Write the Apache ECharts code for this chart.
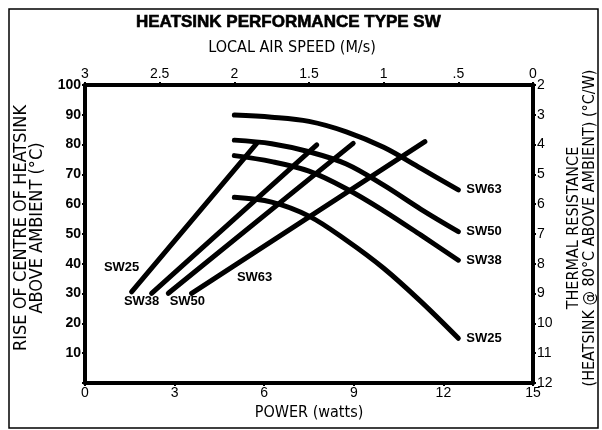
<!DOCTYPE html>
<html>
<head>
<meta charset="utf-8">
<script src="https://cdn.jsdelivr.net/npm/echarts@6/dist/echarts.min.js"></script>
<style>
html,body{margin:0;padding:0;background:#fff;}
#chart{width:602px;height:430px;}
</style>
</head>
<body>
<div id="chart"></div>
<script>
// Rising lines: power (W) vs rise of heatsink centre (°C)
const seriesNames = ['SW25', 'SW38', 'SW50', 'SW63'];
const powerSW25 = [1.56, 5.75];
const riseSW25  = [30.6, 80.4];
const powerSW38 = [2.23, 7.76];
const riseSW38  = [30.1, 79.9];
const powerSW50 = [2.79, 8.98];
const riseSW50  = [30.1, 80.4];
const powerSW63 = [3.57, 11.38];
const riseSW63  = [30.1, 81.0];

// Falling curves: local air speed (m/s) vs thermal resistance (°C/W)
const airSpeed = [2.0, 1.75, 1.5, 1.25, 1.0, 0.75, 0.5];
const resSW63  = [3.01, 3.08, 3.22, 3.57, 4.09, 4.80, 5.52];
const resSW50  = [3.85, 3.97, 4.24, 4.65, 5.36, 6.17, 6.92];
const resSW38  = [4.37, 4.57, 4.89, 5.48, 6.22, 7.04, 7.88];
const resSW25  = [5.77, 5.93, 6.40, 7.21, 8.15, 9.27, 10.50];

const FONT = 'Liberation Sans';
const NARROW = '"Liberation Sans Narrow", "DejaVu Sans Condensed", sans-serif';

function zip(xs, ys) { return xs.map((x, i) => [x, ys[i]]); }

const risingSets = [
  [powerSW25, riseSW25, [-10, -24]],
  [powerSW38, riseSW38, [-10, 8]],
  [powerSW50, riseSW50, [19, 8]],
  [powerSW63, riseSW63, [63, -16]]
];
const fallingSets = [resSW25, resSW38, resSW50, resSW63];

const labelStyle = { color: '#000', fontFamily: FONT, fontWeight: 'bold', fontSize: 13 };
const lineStyle = { color: '#000', width: 5, cap: 'round', join: 'round' };

const series = [];
risingSets.forEach((s, k) => {
  const pts = zip(s[0], s[1]).map((p, i) => i === 0 ? {
    value: p,
    label: Object.assign({ show: true, position: 'inside', offset: s[2], formatter: seriesNames[k] }, labelStyle)
  } : { value: p });
  series.push({
    name: seriesNames[k] + ' rise', type: 'line', xAxisIndex: 0, yAxisIndex: 0,
    data: pts, symbol: 'circle', symbolSize: 0, showSymbol: true,
    lineStyle: lineStyle, itemStyle: { color: '#000' }, silent: true, animation: false
  });
});
fallingSets.forEach((arr, k) => {
  const pts = zip(airSpeed, arr).map((p, i) => i === arr.length - 1 ? {
    value: p,
    label: Object.assign({ show: true, position: 'right', distance: 8, formatter: seriesNames[k] }, labelStyle)
  } : { value: p });
  series.push({
    name: seriesNames[k] + ' resistance', type: 'line', xAxisIndex: 1, yAxisIndex: 1,
    data: pts, smooth: 0.35, symbol: 'circle', symbolSize: 0, showSymbol: true,
    lineStyle: lineStyle, itemStyle: { color: '#000' }, silent: true, animation: false
  });
});

const axisLine = { show: true, onZero: false, lineStyle: { color: '#000', width: 4 } };
const axisTick = { show: true, length: 3, lineStyle: { color: '#000', width: 2 } };
const axisLabel = { color: '#000', fontFamily: FONT, fontSize: 14, margin: 4 };
const nameStyle = { color: '#000', fontFamily: NARROW, fontSize: 16 };

const option = {
  backgroundColor: '#fff',
  animation: false,
  title: {
    text: 'HEATSINK PERFORMANCE TYPE SW',
    left: 131, top: 9,
    textStyle: { color: '#000', fontFamily: FONT, fontWeight: 'bold', fontSize: 17, textBorderColor: '#000', textBorderWidth: 0.6 }
  },
  grid: { left: 85, right: 69, top: 85, bottom: 47, containLabel: false, outerBoundsMode: 'none' },
  xAxis: [
    {
      type: 'value', position: 'bottom', min: 0, max: 15, interval: 3,
      axisLine, axisTick, splitLine: { show: false },
      axisLabel: Object.assign({}, axisLabel, { margin: 3 }),
      name: 'POWER (watts)', nameLocation: 'middle', nameGap: 18, nameTextStyle: nameStyle
    },
    {
      type: 'value', position: 'top', min: 0, max: 3, interval: 0.5, inverse: true,
      axisLine, axisTick, splitLine: { show: false },
      axisLabel: Object.assign({}, axisLabel, { formatter: v => v === 0.5 ? '.5' : String(v) }),
      name: 'LOCAL AIR SPEED (M/s)', nameLocation: 'middle', nameGap: 29,
      nameTextStyle: Object.assign({}, nameStyle, { padding: [0, 34, 0, 0] })
    }
  ],
  yAxis: [
    {
      type: 'value', position: 'left', min: 0, max: 100, interval: 10,
      axisLine, axisTick, splitLine: { show: false },
      axisLabel: Object.assign({}, axisLabel, { fontWeight: 'bold', formatter: v => v === 0 ? '' : String(v) }),
      name: 'RISE OF CENTRE OF HEATSINK\nABOVE AMBIENT (°C)', nameLocation: 'middle', nameGap: 32,
      nameRotate: 90, nameTextStyle: Object.assign({}, nameStyle, { fontSize: 18, lineHeight: 16, padding: [0, 0, 0, 12] })
    },
    {
      type: 'value', position: 'right', min: 2, max: 12, interval: 1, inverse: true,
      axisLine, axisTick, splitLine: { show: false },
      axisLabel: Object.assign({}, axisLabel),
      name: 'THERMAL RESISTANCE\n(HEATSINK @ 80°C ABOVE AMBIENT) (°C/W)', nameLocation: 'middle', nameGap: 33,
      nameRotate: 90, nameTextStyle: Object.assign({}, nameStyle, { lineHeight: 16, padding: [0, 0, 0, 12] })
    }
  ],
  graphic: [{
    type: 'rect', silent: true,
    shape: { x: 9, y: 9, width: 589, height: 419 },
    style: { fill: 'none', stroke: '#000', lineWidth: 1.5 }
  }],
  series
};

const chart = echarts.init(document.getElementById('chart'), null, { renderer: 'canvas' });
chart.setOption(option);
</script>
</body>
</html>
